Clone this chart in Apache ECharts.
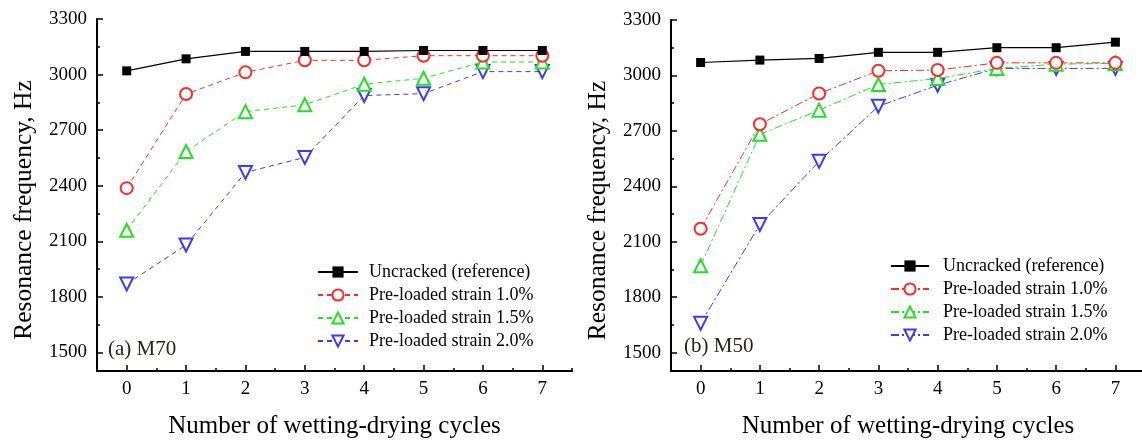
<!DOCTYPE html>
<html>
<head>
<meta charset="utf-8">
<script src="https://cdn.jsdelivr.net/npm/echarts@6/dist/echarts.min.js"></script>
<style>
  html, body { margin: 0; padding: 0; background: #fff; }
  #chart-container { width: 1142px; height: 440px; }
</style>
</head>
<body>
<div id="chart-container"></div>
<script>
var dom = document.getElementById("chart-container");
var myChart = echarts.init(dom, null, { renderer: "canvas" });

// data
const cycles = [0, 1, 2, 3, 4, 5, 6, 7];
const legendNames = [
  "Uncracked (reference)",
  "Pre-loaded strain 1.0%",
  "Pre-loaded strain 1.5%",
  "Pre-loaded strain 2.0%",
];
// (a) M70
const m70Uncracked = [3020, 3085, 3125, 3125, 3125, 3130, 3130, 3130];
const m70Strain10 = [2387, 2895, 3012, 3077, 3077, 3102, 3102, 3102];
const m70Strain15 = [2160, 2585, 2800, 2837, 2948, 2980, 3068, 3068];
const m70Strain20 = [1870, 2080, 2472, 2553, 2887, 2897, 3016, 3016];
// (b) M50
const m50Uncracked = [3070, 3083, 3092, 3125, 3125, 3150, 3150, 3180];
const m50Strain10 = [2170, 2736, 2902, 3025, 3029, 3068, 3068, 3068];
const m50Strain15 = [1970, 2681, 2812, 2951, 2983, 3038, 3061, 3065];
const m50Strain20 = [1658, 2193, 2535, 2833, 2947, 3038, 3038, 3038];

const yLabels = [1500, 1800, 2100, 2400, 2700, 3000, 3300];
const yMinor = [1650, 1950, 2250, 2550, 2850, 3150];
const xMinor = [-0.5, 0.5, 1.5, 2.5, 3.5, 4.5, 5.5, 6.5, 7.5];

const font = "Liberation Serif";
const colors = ["#000000", "#ff2a2a", "#22e022", "#3a3aff"];
const symbols = ["rect", "emptyCircle", "emptyTriangle", "emptyTriangle"];
const symbolSizes = [9, 12, 13, 13];
const rotates = [0, 0, 0, 180];

function pairs(vals) {
  return cycles.map((c, i) => [c, vals[i]]);
}

function mainX(grid) {
  return {
    type: "value", gridIndex: grid, min: -0.5, max: 7.5, position: "bottom",
    name: "Number of wetting-drying cycles",
    nameLocation: "middle", nameGap: 43,
    nameTextStyle: { fontFamily: font, fontSize: 25, color: "#000" },
    axisLine: { onZero: false, lineStyle: { color: "#000", width: 2 } },
    axisTick: { inside: true, length: 6, customValues: cycles, lineStyle: { width: 1.5, color: "#000" } },
    axisLabel: { customValues: cycles, margin: 9, fontFamily: font, fontSize: 19, color: "#000" },
    splitLine: { show: false },
  };
}
function minorX(grid) {
  return {
    type: "value", gridIndex: grid, min: -0.5, max: 7.5, position: "bottom",
    axisLine: { show: false, onZero: false },
    axisTick: { inside: true, length: 3, customValues: xMinor, lineStyle: { width: 1.5, color: "#000" } },
    axisLabel: { show: false },
    splitLine: { show: false },
  };
}
function mainY(grid) {
  return {
    type: "value", gridIndex: grid, min: 1400, max: 3300, position: "left",
    name: "Resonance frequency, Hz",
    nameLocation: "middle", nameGap: 60,
    nameTextStyle: { fontFamily: font, fontSize: 25.5, color: "#000", padding: [0, 30, 0, 0] },
    axisLine: { show: true, onZero: false, lineStyle: { color: "#000", width: 2 } },
    axisTick: { show: true, inside: true, length: 6, customValues: yLabels, lineStyle: { width: 1.5, color: "#000" } },
    axisLabel: {
      customValues: yLabels, margin: 10, fontFamily: font, fontSize: 19, color: "#000",
      formatter: (v) => String(v),
    },
    splitLine: { show: false },
  };
}
function minorY(grid) {
  return {
    type: "value", gridIndex: grid, min: 1400, max: 3300, position: "left",
    axisLine: { show: false, onZero: false },
    axisTick: { show: true, inside: true, length: 3, customValues: yMinor, lineStyle: { width: 1.5, color: "#000" } },
    axisLabel: { show: false },
    splitLine: { show: false },
  };
}

function makeSeries(prefix, axisX, axisY, sets, dash) {
  return sets.map((vals, i) => ({
    name: prefix + legendNames[i],
    type: "line",
    xAxisIndex: axisX,
    yAxisIndex: axisY,
    data: pairs(vals),
    symbol: symbols[i],
    symbolSize: symbolSizes[i],
    symbolRotate: rotates[i],
    z: 10 - i,
    itemStyle: { color: colors[i], borderWidth: 1.1 },
    lineStyle: { color: colors[i], width: i === 0 ? 1.2 : 1, type: i === 0 ? "solid" : dash },
  }));
}

function makeLegend(prefix, left, top, width, pad) {
  return {
    orient: "vertical", left: left, top: top,
    itemWidth: width, itemHeight: 14, itemGap: 5,
    data: legendNames.map((n) => prefix + n),
    formatter: (n) => n.slice(2),
    textStyle: { fontFamily: font, fontSize: 18, color: "#000", padding: [0, 0, 0, pad] },
    selectedMode: false,
  };
}

var option = {
  animation: false,
  backgroundColor: "#fff",
  grid: [
    { left: 97, top: 19, width: 475, bottom: 69, outerBoundsMode: "none" },
    { left: 671, top: 20, width: 474, bottom: 69, outerBoundsMode: "none" },
  ],
  xAxis: [mainX(0), minorX(0), mainX(1), minorX(1)],
  yAxis: [mainY(0), minorY(0), mainY(1), minorY(1)],
  legend: [
    makeLegend("a|", 312, 258, 40, 6),
    makeLegend("b|", 885, 252, 38, 9),
  ],
  graphic: [
    { type: "text", left: 108, top: 339, style: { text: "(a) M70", font: "21px Liberation Serif", fill: "#2a2418" } },
    { type: "text", left: 684, top: 336, style: { text: "(b) M50", font: "21px Liberation Serif", fill: "#2a2418" } },
  ],
  series: [].concat(
    makeSeries("a|", 0, 0, [m70Uncracked, m70Strain10, m70Strain15, m70Strain20], [5, 4]),
    makeSeries("b|", 2, 2, [m50Uncracked, m50Strain10, m50Strain15, m50Strain20], [8, 3, 2, 3])
  ),
};

myChart.setOption(option);
window.addEventListener("resize", myChart.resize);
</script>
</body>
</html>
